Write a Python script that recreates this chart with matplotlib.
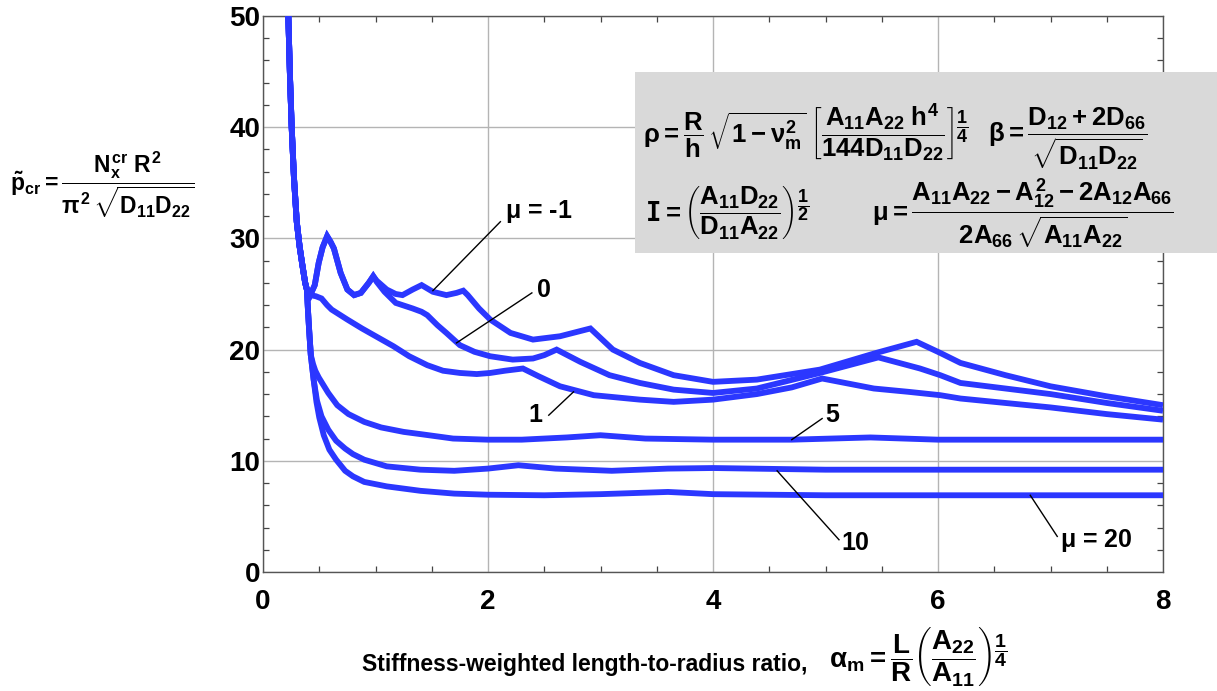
import matplotlib
matplotlib.use("Agg")
import matplotlib.pyplot as plt
from matplotlib.ticker import MultipleLocator

# steep descent shared by every curve at small alpha_m
ENVELOPE_X = [0.225, 0.24, 0.255, 0.275, 0.30, 0.325, 0.35, 0.375, 0.39]
ENVELOPE_Y = [50.0, 44.5, 40.0, 35.5, 31.5, 29.3, 27.6, 26.0, 25.4]

# part shared by mu = -1 and mu = 0
UPPER_SHARED_X = [0.42, 0.46, 0.495, 0.53, 0.57, 0.60, 0.63, 0.66, 0.69, 0.75,
                  0.81, 0.87, 0.94, 0.98]
UPPER_SHARED_Y = [24.9, 25.8, 27.8, 29.2, 30.2, 29.7, 29.1, 28.0, 26.9, 25.4,
                  24.9, 25.1, 26.0, 26.6]

MU_M1_X = [1.01, 1.10, 1.18, 1.24, 1.33, 1.41, 1.51, 1.63, 1.72, 1.78, 1.82,
           1.92, 2.02, 2.2, 2.4, 2.64, 2.91, 3.11, 3.35, 3.65, 4.0, 4.39,
           4.95, 5.45, 5.81, 6.02, 6.2, 6.6, 7.0, 7.5, 8.0]
MU_M1_Y = [26.2, 25.4, 25.0, 24.9, 25.4, 25.8, 25.2, 24.9, 25.1, 25.3, 24.9,
           23.7, 22.7, 21.5, 20.9, 21.2, 21.9, 20.0, 18.8, 17.7, 17.1, 17.3,
           18.2, 19.7, 20.7, 19.7, 18.8, 17.7, 16.7, 15.8, 15.0]

MU_0_X = [1.01, 1.08, 1.18, 1.33, 1.41, 1.46, 1.55, 1.63, 1.75, 1.88, 2.02,
          2.22, 2.4, 2.5, 2.61, 2.82, 3.08, 3.35, 3.65, 4.0, 4.39, 4.95,
          5.47, 5.84, 6.02, 6.2, 6.6, 7.0, 7.5, 8.0]
MU_0_Y = [26.1, 25.2, 24.2, 23.7, 23.4, 23.1, 22.2, 21.5, 20.4, 19.8, 19.4,
          19.1, 19.2, 19.5, 20.0, 18.9, 17.7, 17.0, 16.4, 16.1, 16.5, 17.9,
          19.3, 18.3, 17.7, 17.0, 16.5, 16.0, 15.2, 14.5]

MU_1_X = [0.42, 0.47, 0.52, 0.57, 0.61, 0.75, 0.88, 1.02, 1.16, 1.3, 1.46,
          1.6, 1.75, 1.9, 2.02, 2.15, 2.31, 2.45, 2.64, 2.94, 3.35, 3.65,
          4.0, 4.39, 4.7, 4.97, 5.43, 5.74, 6.02, 6.2, 6.6, 7.0, 7.5, 8.0]
MU_1_Y = [24.9, 24.8, 24.6, 24.0, 23.6, 22.7, 21.9, 21.1, 20.3, 19.4, 18.6,
          18.1, 17.9, 17.8, 17.9, 18.1, 18.3, 17.6, 16.7, 15.9, 15.5, 15.3,
          15.5, 16.0, 16.6, 17.4, 16.5, 16.2, 15.9, 15.6, 15.2, 14.8, 14.2, 13.7]

# lower envelope shared by mu = 5, 10, 20
LOWER_SHARED_X = [0.40, 0.41, 0.425]
LOWER_SHARED_Y = [23.5, 21.8, 19.5]

MU_5_X = [0.445, 0.465, 0.495, 0.58, 0.66, 0.76, 0.9, 1.05, 1.25, 1.40, 1.69,
          2.0, 2.3, 2.7, 3.0, 3.4, 4.0, 4.7, 5.4, 6.0, 7.0, 8.0]
MU_5_Y = [18.7, 18.1, 17.5, 16.1, 15.0, 14.2, 13.5, 13.0, 12.6, 12.4, 12.0,
          11.9, 11.9, 12.1, 12.3, 12.0, 11.9, 11.9, 12.1, 11.9, 11.9, 11.9]

MU_10_X = [0.45, 0.48, 0.52, 0.58, 0.65, 0.73, 0.80, 0.9, 1.1, 1.4, 1.7,
           2.0, 2.27, 2.6, 3.1, 3.6, 4.0, 5.0, 6.0, 8.0]
MU_10_Y = [17.3, 15.4, 14.0, 12.8, 11.8, 11.1, 10.6, 10.1, 9.5, 9.2, 9.1,
           9.3, 9.6, 9.3, 9.1, 9.3, 9.35, 9.2, 9.2, 9.2]

MU_20_X = [0.45, 0.475, 0.50, 0.54, 0.59, 0.65, 0.73, 0.80, 0.9, 1.1, 1.4,
           1.7, 2.0, 2.5, 3.0, 3.6, 4.0, 5.0, 8.0]
MU_20_Y = [17.3, 15.3, 13.9, 12.3, 11.0, 10.1, 9.1, 8.6, 8.1, 7.7, 7.3,
           7.05, 6.95, 6.9, 7.0, 7.2, 7.0, 6.9, 6.9]

# label text, point on curve, end of leader line, text anchor (data units)
LABELS = [
    (r"$\mu$ = -1", (1.51, 25.3), (2.11, 31.5), (2.15, 32.4)),
    ("0", (1.72, 20.6), (2.39, 25.1), (2.44, 25.4)),
    ("1", (2.76, 16.2), (2.54, 14.1), (2.36, 14.1)),
    ("5", (4.70, 11.9), (4.97, 13.8), (5.00, 14.1)),
    ("10", (4.57, 9.1), (5.12, 2.9), (5.14, 2.6)),
    (r"$\mu$ = 20", (6.82, 6.9), (7.06, 3.2), (7.08, 2.8)),
]

BLUE = "#2b37ff"
W, H = 1217, 691


def fx(px):
    return px / W


def fy(py):
    return 1 - py / H


def main() -> None:
    plt.rcParams["font.family"] = ["Liberation Sans", "DejaVu Sans"]
    plt.rcParams["font.weight"] = "bold"
    plt.rcParams["mathtext.fontset"] = "custom"
    plt.rcParams["mathtext.rm"] = "Liberation Sans:bold"
    plt.rcParams["mathtext.it"] = "Liberation Sans:bold"
    plt.rcParams["mathtext.bf"] = "Liberation Sans:bold"
    plt.rcParams["mathtext.sf"] = "Liberation Sans:bold"
    plt.rcParams["mathtext.tt"] = "DejaVu Sans Mono:bold"

    fig = plt.figure(figsize=(W / 100, H / 100), dpi=100)
    ax = fig.add_axes([fx(263), fy(572), fx(1163) - fx(263), fy(16) - fy(572)])

    env_x, env_y = ENVELOPE_X, ENVELOPE_Y
    curves = [
        (env_x + UPPER_SHARED_X + MU_M1_X, env_y + UPPER_SHARED_Y + MU_M1_Y),
        (env_x + UPPER_SHARED_X + MU_0_X, env_y + UPPER_SHARED_Y + MU_0_Y),
        (env_x + MU_1_X, env_y + MU_1_Y),
        (env_x + LOWER_SHARED_X + MU_5_X, env_y + LOWER_SHARED_Y + MU_5_Y),
        (env_x + LOWER_SHARED_X + MU_10_X, env_y + LOWER_SHARED_Y + MU_10_Y),
        (env_x + LOWER_SHARED_X + MU_20_X, env_y + LOWER_SHARED_Y + MU_20_Y),
    ]
    for xs, ys in curves:
        ax.plot(xs, ys, color=BLUE, lw=4.2, solid_joinstyle="miter",
                solid_capstyle="butt", zorder=3)

    for text, on_curve, end, anchor in LABELS:
        ax.plot([on_curve[0], end[0]], [on_curve[1], end[1]], color="black",
                lw=1.0, zorder=4)
        ax.text(anchor[0], anchor[1], text, fontsize=18, fontweight="bold",
                ha="left", va="center", zorder=5)

    ax.set_xlim(0, 8)
    ax.set_ylim(0, 50)
    ax.xaxis.set_major_locator(MultipleLocator(2))
    ax.xaxis.set_minor_locator(MultipleLocator(0.5))
    ax.yaxis.set_major_locator(MultipleLocator(10))
    ax.yaxis.set_minor_locator(MultipleLocator(2))
    ax.grid(True, which="major", color="#b4b4b4", lw=1.0)
    ax.set_axisbelow(True)
    ax.tick_params(which="both", direction="in", top=True, right=True,
                   color="#444444", width=0.9)
    ax.tick_params(which="major", length=0)
    ax.tick_params(which="minor", length=4)
    ax.tick_params(axis="x", labelsize=20, pad=12)
    ax.tick_params(axis="y", labelsize=20, pad=2)
    for lab in ax.get_xticklabels() + ax.get_yticklabels():
        lab.set_fontweight("bold")
    for sp in ax.spines.values():
        sp.set_color("#555555")
        sp.set_linewidth(1.0)

    # formula box
    box = plt.Rectangle((fx(635), fy(253)), fx(1217) - fx(635),
                        fy(72) - fy(253), transform=fig.transFigure,
                        facecolor="#d9d9d9", edgecolor="none", zorder=6)
    fig.patches.append(box)
    fs = 18.5
    fig.text(fx(643), fy(143),
             r"$\rho = \dfrac{R}{h}\,\sqrt{1 - \nu_m^2}\;"
             r"\left[\dfrac{A_{11}A_{22}\;h^4}{144D_{11}D_{22}}\right]^{\dfrac{1}{4}}$",
             fontsize=fs, va="baseline", ha="left", zorder=7)
    fig.text(fx(988), fy(143),
             r"$\beta = \dfrac{D_{12} + 2D_{66}}{\sqrt{D_{11}D_{22}}}$",
             fontsize=fs, va="baseline", ha="left", zorder=7)
    fig.text(fx(645), fy(221),
             r"$\mathtt{I} = \left(\dfrac{A_{11}D_{22}}{D_{11}A_{22}}\right)^{\dfrac{1}{2}}$",
             fontsize=fs, va="baseline", ha="left", zorder=7)
    fig.text(fx(872), fy(221),
             r"$\mu = \dfrac{A_{11}A_{22} - A_{12}^2 - 2A_{12}A_{66}}"
             r"{2A_{66}\,\sqrt{A_{11}A_{22}}}$",
             fontsize=fs, va="baseline", ha="left", zorder=7)

    # y label (horizontal, left of axis)
    fig.text(fx(10), fy(191),
             r"$\tilde{p}_{cr} = \dfrac{N_x^{cr}\;R^2}{\pi^2\,\sqrt{D_{11}D_{22}}}$",
             fontsize=16.5, va="baseline", ha="left")

    # x label
    fig.text(fx(362), fy(671), "Stiffness-weighted length-to-radius ratio,",
             fontsize=16.5, fontweight="bold", va="baseline", ha="left")
    fig.text(fx(829), fy(667),
             r"$\alpha_m = \dfrac{L}{R}\left(\dfrac{A_{22}}{A_{11}}\right)^{\dfrac{1}{4}}$",
             fontsize=20, va="baseline", ha="left")

    fig.savefig("out.png", dpi=100)


if __name__ == "__main__":
    main()
